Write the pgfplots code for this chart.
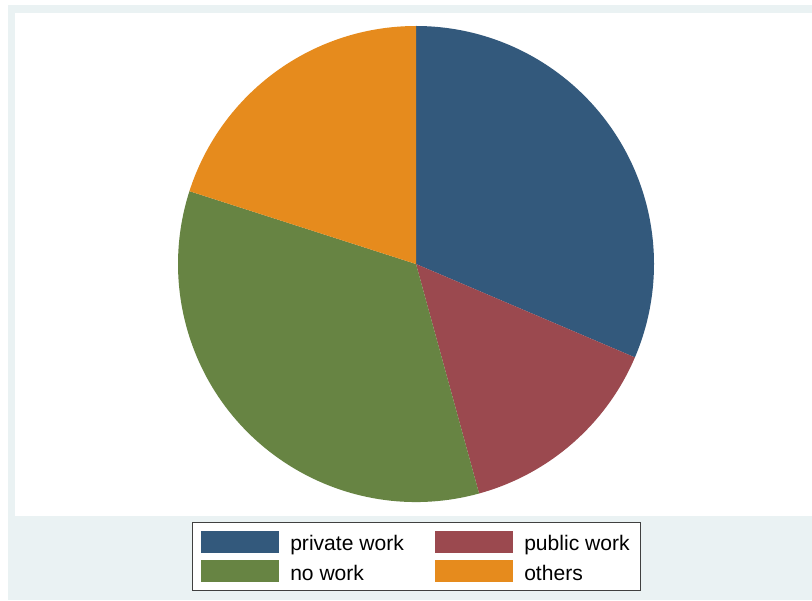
\documentclass[border=0pt]{standalone}
\usepackage{pgfplots}
\pgfplotsset{compat=1.18}
\usepackage{fontspec}
\setmainfont{Liberation Sans}

\definecolor{bgblue}{RGB}{234,242,243}
\definecolor{pwblue}{RGB}{51,89,124}
\definecolor{pubred}{RGB}{155,73,79}
\definecolor{nwgreen}{RGB}{103,132,67}
\definecolor{othorange}{RGB}{230,139,29}

% shares in percent, clockwise from 12 o'clock
\def\sPrivate{31.42}
\def\sPublic{14.31}
\def\sNowork{34.22}
\def\sOthers{20.05}

\pgfmathsetmacro{\aA}{90}
\pgfmathsetmacro{\aB}{\aA-3.6*\sPrivate}
\pgfmathsetmacro{\aC}{\aB-3.6*\sPublic}
\pgfmathsetmacro{\aD}{\aC-3.6*\sNowork}
\pgfmathsetmacro{\aE}{\aD-3.6*\sOthers}

% 1 unit = 1 pixel of the 812x600 picture = 0.75pt
\def\R{178.5pt}

\begin{document}
\begin{tikzpicture}
\begin{axis}[
  width=609pt, height=450pt, scale only axis,
  xmin=0, xmax=812, ymin=0, ymax=600,
  hide axis, clip=false,
]
% graph and plot regions
\fill[white] (axis cs:0,0) rectangle (axis cs:812,600);
\fill[bgblue] (axis cs:8,0) rectangle (axis cs:812,595);
\fill[white] (axis cs:15,84) rectangle (axis cs:812,587);

% slices
\fill[pwblue] (axis cs:416,336) -- ++(\aA:\R) arc[start angle=\aA, end angle=\aB, radius=\R] -- cycle;
\fill[pubred] (axis cs:416,336) -- ++(\aB:\R) arc[start angle=\aB, end angle=\aC, radius=\R] -- cycle;
\fill[nwgreen] (axis cs:416,336) -- ++(\aC:\R) arc[start angle=\aC, end angle=\aD, radius=\R] -- cycle;
\fill[othorange] (axis cs:416,336) -- ++(\aD:\R) arc[start angle=\aD, end angle=\aE, radius=\R] -- cycle;

% legend
\draw[fill=white, draw=black!75, line width=0.75pt] (axis cs:192.5,10) rectangle (axis cs:640,77.5);
\fill[pwblue] (axis cs:201,47.5) rectangle (axis cs:279,69);
\fill[pubred] (axis cs:435,47.5) rectangle (axis cs:513,69);
\fill[nwgreen] (axis cs:201,18) rectangle (axis cs:279,40);
\fill[othorange] (axis cs:435,18) rectangle (axis cs:513,40);
\node[anchor=base west, inner sep=0pt, font=\fontsize{15.8pt}{18pt}\selectfont] at (axis cs:290,49.5) {private work};
\node[anchor=base west, inner sep=0pt, font=\fontsize{15.8pt}{18pt}\selectfont] at (axis cs:524,49.5) {public work};
\node[anchor=base west, inner sep=0pt, font=\fontsize{15.8pt}{18pt}\selectfont] at (axis cs:290,20) {no work};
\node[anchor=base west, inner sep=0pt, font=\fontsize{15.8pt}{18pt}\selectfont] at (axis cs:524,20) {others};
\end{axis}
\end{tikzpicture}
\end{document}
